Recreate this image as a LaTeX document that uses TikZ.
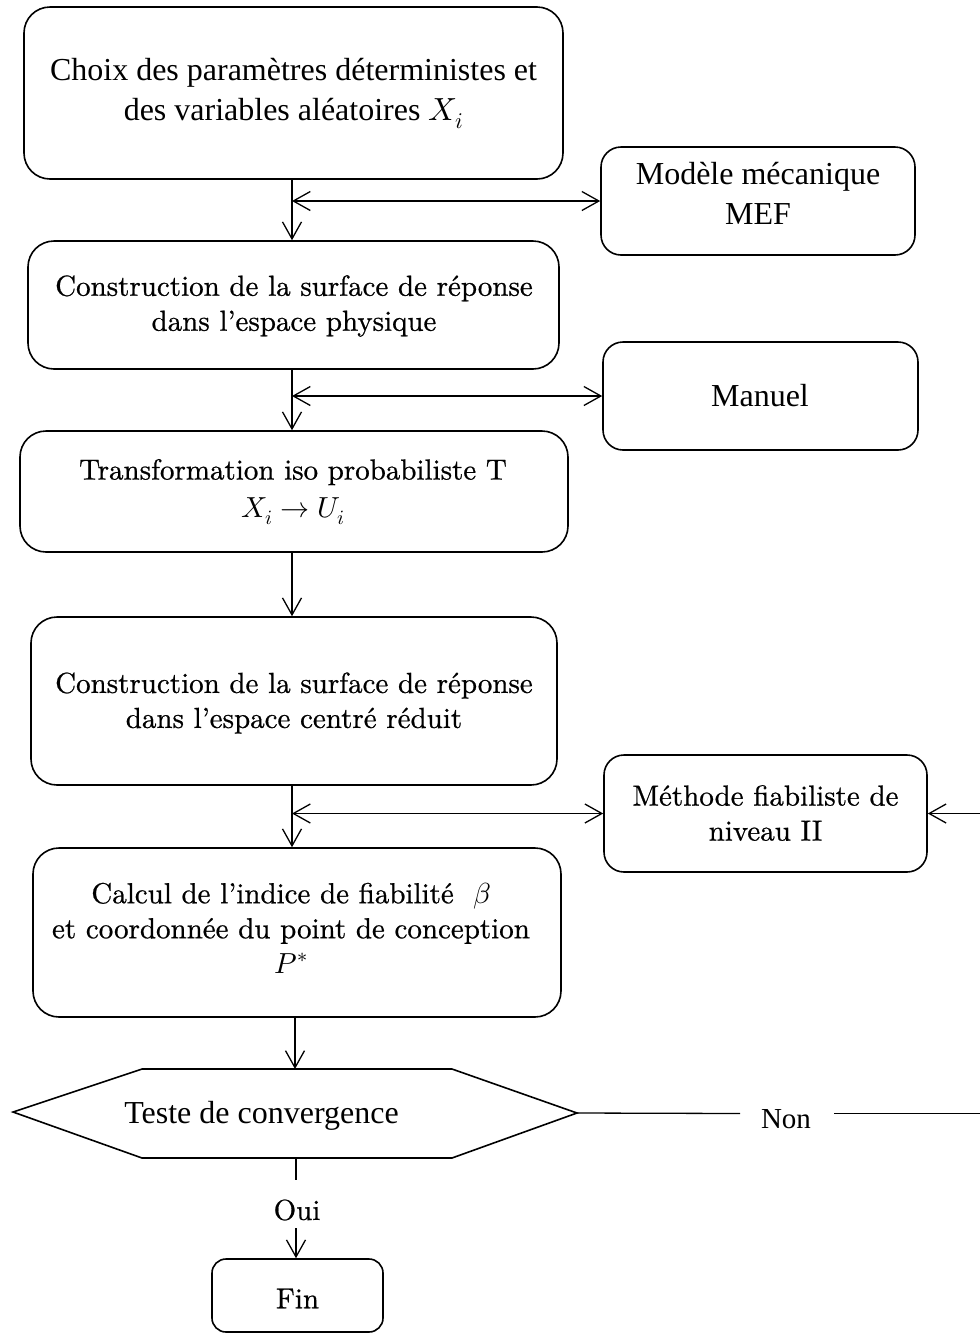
\documentclass[tikz,border=0pt]{standalone}
\usepackage{fontspec}
\usepackage{unicode-math}
\newfontfamily\tnr{Liberation Serif}
\newfontfamily\pal{lmroman10-regular.otf}[FakeBold=0.7]
\usetikzlibrary{arrows.meta}

\tikzset{
  boxline/.style={draw, line width=1.6pt, inner sep=0pt},
  bigbox/.style={boxline, rounded corners=26pt},
  sidebox/.style={boxline, rounded corners=20pt},
  finbox/.style={boxline, rounded corners=14pt},
  ttext/.style={font=\tnr\fontsize{32}{40}\selectfont, align=center, inner sep=0pt},
  tsmall/.style={font=\tnr\fontsize{29}{35}\selectfont, align=center, inner sep=0pt},
  ptext/.style={font=\pal\fontsize{29}{35}\selectfont, align=center, inner sep=0pt},
  barb/.tip={Straight Barb[length=17pt,width=19pt]},
  link/.style={line width=1.3pt},
  arr/.style={link, -barb},
  darr/.style={link, barb-barb},
}

\begin{document}
\begin{tikzpicture}[x=1pt,y=-1pt]
  \fill[white] (0,0) rectangle (980,1334);
  \useasboundingbox (0,0) rectangle (980,1334);

  % main column of steps
  \node[bigbox, minimum width=539pt, minimum height=172pt] (b1) at (293.5,93) {};
  \node[bigbox, minimum width=531pt, minimum height=128pt] (b2) at (293.5,305) {};
  \node[bigbox, minimum width=548pt, minimum height=121pt] (b3) at (294,491.5) {};
  \node[bigbox, minimum width=526pt, minimum height=168pt] (b4) at (294,701) {};
  \node[bigbox, minimum width=528pt, minimum height=169pt] (b5) at (297,932.5) {};

  \node[ttext] (t1) at (293.5,93.5) {Choix des paramètres déterministes et\\ des variables aléatoires $X_i$};
  \node[ptext] (t2) at (294,306) {Construction de la surface de réponse\\ dans l’espace physique};
  \node[ptext] (t3) at (293,492) {Transformation iso probabiliste T\\[3pt] $X_i \rightarrow U_i$};
  \node[ptext] (t4) at (294,703) {Construction de la surface de réponse\\ dans l’espace centré réduit};
  \node[ptext] (t5) at (291,928) {Calcul de l’indice de fiabilité~ $\beta$\\ et coordonnée du point de conception\\ $P^{*}$};

  % side boxes
  \node[sidebox, minimum width=314pt, minimum height=108pt] (mef) at (758,201) {};
  \node[sidebox, minimum width=315pt, minimum height=108pt] (man) at (760.5,396) {};
  \node[sidebox, minimum width=323pt, minimum height=117pt] (meth) at (765.5,813.5) {};

  \node[ttext] (tmef) at (758,193) {Modèle mécanique\\ MEF};
  \node[ttext] (tman) at (760,396) {Manuel};
  \node[ptext] (tmeth) at (765.5,813) {Méthode fiabiliste de\\ niveau II};

  % convergence test
  \coordinate (hexW)  at (13,1112);
  \coordinate (hexNW) at (142,1069);
  \coordinate (hexNE) at (452,1069);
  \coordinate (hexE)  at (577,1113);
  \coordinate (hexSE) at (452,1158);
  \coordinate (hexSW) at (142,1158);
  \draw[line width=1.6pt, line join=miter]
    (hexW) -- (hexNW) -- (hexNE) -- (hexE) -- (hexSE) -- (hexSW) -- cycle;
  \coordinate (hexN) at (295,1069);
  \coordinate (hexS) at (296,1158);
  \node[ttext, anchor=base] (teste) at (261.5,1123) {Teste de convergence};

  % end box
  \node[finbox, minimum width=171pt, minimum height=73pt] (fin) at (297.5,1295.5) {};
  \node[ptext] (tfin) at (297.5,1298.5) {Fin};

  % downward flow
  \coordinate (col) at (292,0);
  \draw[arr] (b1.south -| col) -- (b2.north -| col);
  \draw[arr] (b2.south -| col) -- (b3.north -| col);
  \draw[arr] (b3.south -| col) -- (b4.north -| col);
  \draw[arr] (b4.south -| col) -- (b5.north -| col);
  \draw[arr] (b5.south -| hexN) -- (hexN);

  % exchanges with the side boxes
  \draw[darr] (col |- mef.west) -- (mef.west);
  \draw[darr] (col |- man.west) -- (man.west);
  \draw[darr] (col |- meth.west) -- (meth.west);

  % "Non" loop back to the reliability method
  \coordinate (nonA) at (740,1113.5);
  \node[tsmall] (non) at (786,1119.5) {Non};
  \coordinate (nonB) at (834,1113.5);
  \coordinate (edge) at (982,1113.5);
  \draw[link] (hexE) -- (nonA);
  \draw[arr] (nonB) -- (edge) |- (meth.east);

  % "Oui" to the end
  \coordinate (ouiA) at (296,1180);
  \node[ptext] (oui) at (297,1210) {Oui};
  \coordinate (ouiB) at (296,1228);
  \draw[link] (hexS) -- (ouiA);
  \draw[arr] (ouiB) -- (fin.north -| ouiB);
\end{tikzpicture}
\end{document}
